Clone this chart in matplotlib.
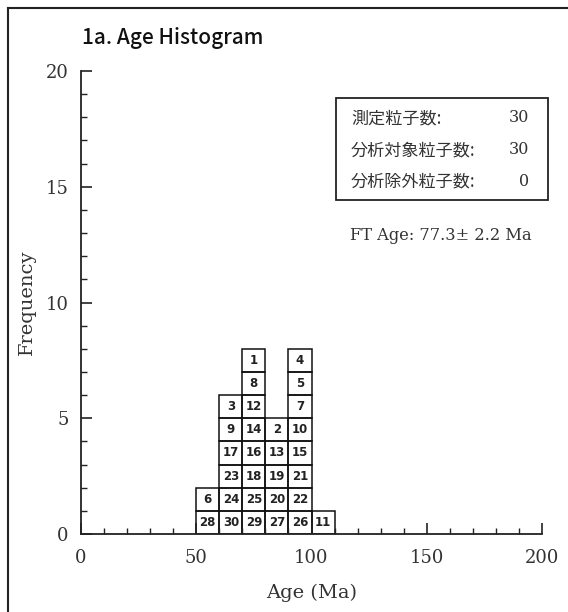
import matplotlib
matplotlib.use("Agg")
import matplotlib.pyplot as plt
from matplotlib.patches import Rectangle
from matplotlib.lines import Line2D
from matplotlib.ticker import MultipleLocator

# ---- data ----
bin_left = [50, 60, 70, 80, 90, 100]
bin_width = 10
# grain numbers stacked from bottom to top in each bin
stacks = [
    [28, 6],
    [30, 24, 23, 17, 9, 3],
    [29, 25, 18, 16, 14, 12, 8, 1],
    [27, 20, 19, 13, 2],
    [26, 22, 21, 15, 10, 7, 5, 4],
    [11],
]
x_ticks = [0, 50, 100, 150, 200]
y_ticks = [0, 5, 10, 15, 20]
title = "1a. Age Histogram"
xlabel = "Age (Ma)"
ylabel = "Frequency"
info_labels = ["測定粒子数:", "分析対象粒子数:", "分析除外粒子数:"]
info_values = ["30", "30", "0"]
ft_age = "FT Age: 77.3± 2.2 Ma"

W, H = 568, 612
fig = plt.figure(figsize=(W / 100, H / 100), dpi=100)

def fx(px):
    return px / W

def fy(py):
    return 1 - py / H

ax = fig.add_axes([fx(81), fy(534), fx(542) - fx(81), fy(71) - fy(534)])
ax.set_xlim(0, 200)
ax.set_ylim(0, 20)
ax.spines["top"].set_visible(False)
ax.spines["right"].set_visible(False)
for s in ("left", "bottom"):
    ax.spines[s].set_linewidth(1.3)
    ax.spines[s].set_color("#222222")

ax.set_xticks(x_ticks)
ax.set_yticks(y_ticks)
ax.xaxis.set_minor_locator(MultipleLocator(10))
ax.yaxis.set_minor_locator(MultipleLocator(1))
ax.tick_params(which="major", direction="in", length=8, width=1.2, color="#222222")
ax.tick_params(which="minor", direction="in", length=4, width=1.0, color="#222222")
ax.tick_params(axis="x", which="major", pad=11)
ax.tick_params(axis="y", which="major", pad=9)
serif = "DejaVu Serif"
for lab in ax.get_xticklabels() + ax.get_yticklabels():
    lab.set_fontfamily(serif)
    lab.set_fontsize(13)
    lab.set_color("#333333")
ax.set_xlabel(xlabel, fontfamily=serif, fontsize=14, color="#333333", labelpad=12)
ax.set_ylabel(ylabel, fontfamily=serif, fontsize=14, color="#333333", labelpad=7)

# stacked grain boxes
for left, col in zip(bin_left, stacks):
    for row, num in enumerate(col):
        ax.bar(left, 1, bottom=row, width=bin_width, align="edge",
               fill=False, edgecolor="#111111", linewidth=1.1)
        ax.text(left + bin_width / 2, row + 0.5, str(num), ha="center", va="center",
                fontsize=8.5, fontweight="bold", color="#222222",
                fontfamily=["DejaVu Sans"])

# title
fig.text(fx(82), fy(38), title, ha="left", va="center", fontsize=15,
         fontweight="medium", fontfamily=["Noto Sans CJK JP", "DejaVu Sans"],
         color="#111111")

# info box
fig.add_artist(Rectangle((fx(336), fy(200)), fx(548) - fx(336), fy(98) - fy(200),
                         transform=fig.transFigure, fill=False,
                         edgecolor="#222222", linewidth=1.3))
rows_y = [118, 150, 181]
for lab, val, ry in zip(info_labels, info_values, rows_y):
    fig.text(fx(351), fy(ry), lab, ha="left", va="center", fontsize=12.3,
             fontfamily=["Noto Sans CJK JP", "DejaVu Sans"], color="#333333")
    fig.text(fx(529), fy(ry), val, ha="right", va="center", fontsize=11.5,
             fontfamily=serif, color="#333333")
fig.text(fx(350), fy(235), ft_age, ha="left", va="center", fontsize=11.7,
         fontfamily=[serif], color="#333333")

# outer frame (top and left edges)
fig.add_artist(Line2D([fx(8), 1], [fy(8), fy(8)], transform=fig.transFigure,
                      color="#222222", linewidth=1.5))
fig.add_artist(Line2D([fx(8), fx(8)], [0, fy(8)], transform=fig.transFigure,
                      color="#222222", linewidth=1.5))

fig.savefig("out.png", dpi=100)
